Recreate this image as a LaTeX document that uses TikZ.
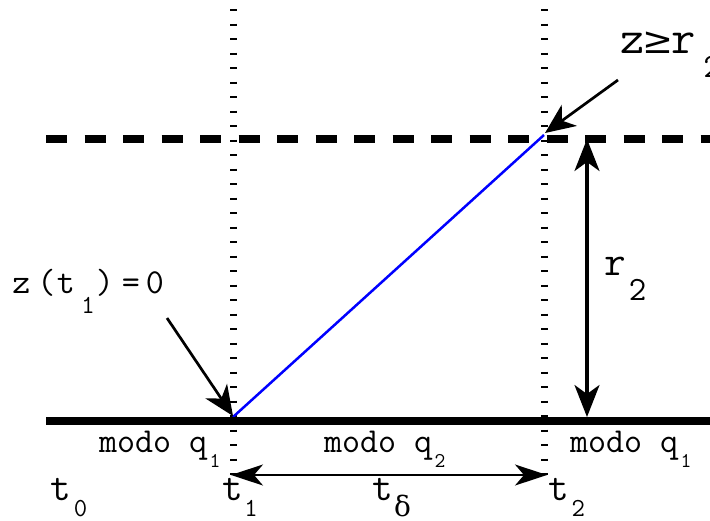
\RequirePackage{fix-cm}
\documentclass[tikz,border=0pt]{standalone}
\usepackage{fontspec}
\newfontfamily\symf{DejaVu Serif}
\usetikzlibrary{arrows.meta}
\newcommand\fs[1]{\fontsize{#1}{#1}\selectfont}
\newcommand\cb[2]{\makebox[#1][c]{#2}}
\tikzset{
  lbl/.style={inner sep=0pt, outer sep=0pt, anchor=base west, font=\ttfamily},
  groundline/.style={line width=8pt},
  levelline/.style={line width=8pt, dash pattern=on 21pt off 17.5pt},
  timeline/.style={line width=7pt, dash pattern=on 2pt off 12.5pt},
  ramp/.style={line width=2.5pt, color={rgb,255:red,0;green,0;blue,255}},
  callout/.style={line width=2.7pt, -{Stealth[length=30pt,width=26pt,inset=9pt]}},
  span/.style={line width=3.2pt, {Stealth[length=32pt,width=25pt,inset=9pt]}-{Stealth[length=32pt,width=25pt,inset=9pt]}},
  durspan/.style={line width=1.6pt, {Stealth[length=32pt,width=21pt,inset=9pt]}-{Stealth[length=32pt,width=21pt,inset=9pt]}}
}
\begin{document}
\begin{tikzpicture}[x=1pt,y=-1pt]
\useasboundingbox (0,0) rectangle (710,520);
% coordinates
\coordinate (gl) at (46,421); \coordinate (gr) at (714,421);
\coordinate (ll) at (46,139); \coordinate (lr) at (714,139);
\coordinate (v1t) at (233,9); \coordinate (v1b) at (233,482);
\coordinate (v2t) at (544,9); \coordinate (v2b) at (544,482);
\coordinate (rs) at (233,417); \coordinate (re) at (544,135);
\coordinate (c1tail) at (167,318); \coordinate (c1tip) at (233,416);
\coordinate (c2tail) at (618,80); \coordinate (c2tip) at (545,133);
\coordinate (rtop) at (587,139); \coordinate (rbot) at (587,417);
\coordinate (dl) at (231,475); \coordinate (dr) at (547,475);
% lines
\draw[timeline] (v1t) -- (v1b);
\draw[timeline] (v2t) -- (v2b);
\draw[ramp] (rs) -- (re);
\draw[groundline] (gl) -- (gr);
\draw[levelline] (ll) -- (lr);
\draw[callout] (c1tail) -- (c1tip);
\draw[callout] (c2tail) -- (c2tip);
\draw[span] (rtop) -- (rbot);
\draw[durspan] (dl) -- (dr);
% labels
\node[lbl] (zt) at (9,293) {\fs{35}\cb{25pt}{z}\cb{25pt}{(}\cb{14pt}{t}\cb{30pt}{\raisebox{-20pt}{\fs{26}1}}\cb{4pt}{)}\cb{48pt}{=}\cb{0pt}{0}};
\node[lbl] (zr) at (621,53) {\fs{47}\cb{24pt}{z}\cb{25pt}{\symf\fs{37}≥}\cb{27pt}{r}\cb{30pt}{\raisebox{-24pt}{\fs{34}2}}};
\node[lbl] (r2) at (603,275) {\fs{42}\cb{25pt}{r}\cb{19pt}{\raisebox{-25pt}{\fs{34}2}}};
\node[lbl] (m1) at (99,452) {\fs{35}modo q\hspace{2.5pt}\raisebox{-15pt}{\fs{21}1}};
\node[lbl] (m2) at (324,452) {\fs{35}modo q\hspace{2.5pt}\raisebox{-15pt}{\fs{21}2}};
\node[lbl] (m3) at (570,452) {\fs{35}modo q\hspace{2.5pt}\raisebox{-15pt}{\fs{21}1}};
\node[lbl] (t0) at (50.5,500) {\fs{40}t\hspace{2.7pt}\raisebox{-16pt}{\fs{26}0}};
\node[lbl] (t1) at (222,500) {\fs{40}t\hspace{1.7pt}\raisebox{-16pt}{\fs{26}1}};
\node[lbl] (td) at (372,500) {\fs{40}t\hspace{1.5pt}\raisebox{-16pt}{\symf\fs{28}δ}};
\node[lbl] (t2) at (548,500) {\fs{40}t\hspace{3pt}\raisebox{-16pt}{\fs{26}2}};
\end{tikzpicture}
\end{document}
